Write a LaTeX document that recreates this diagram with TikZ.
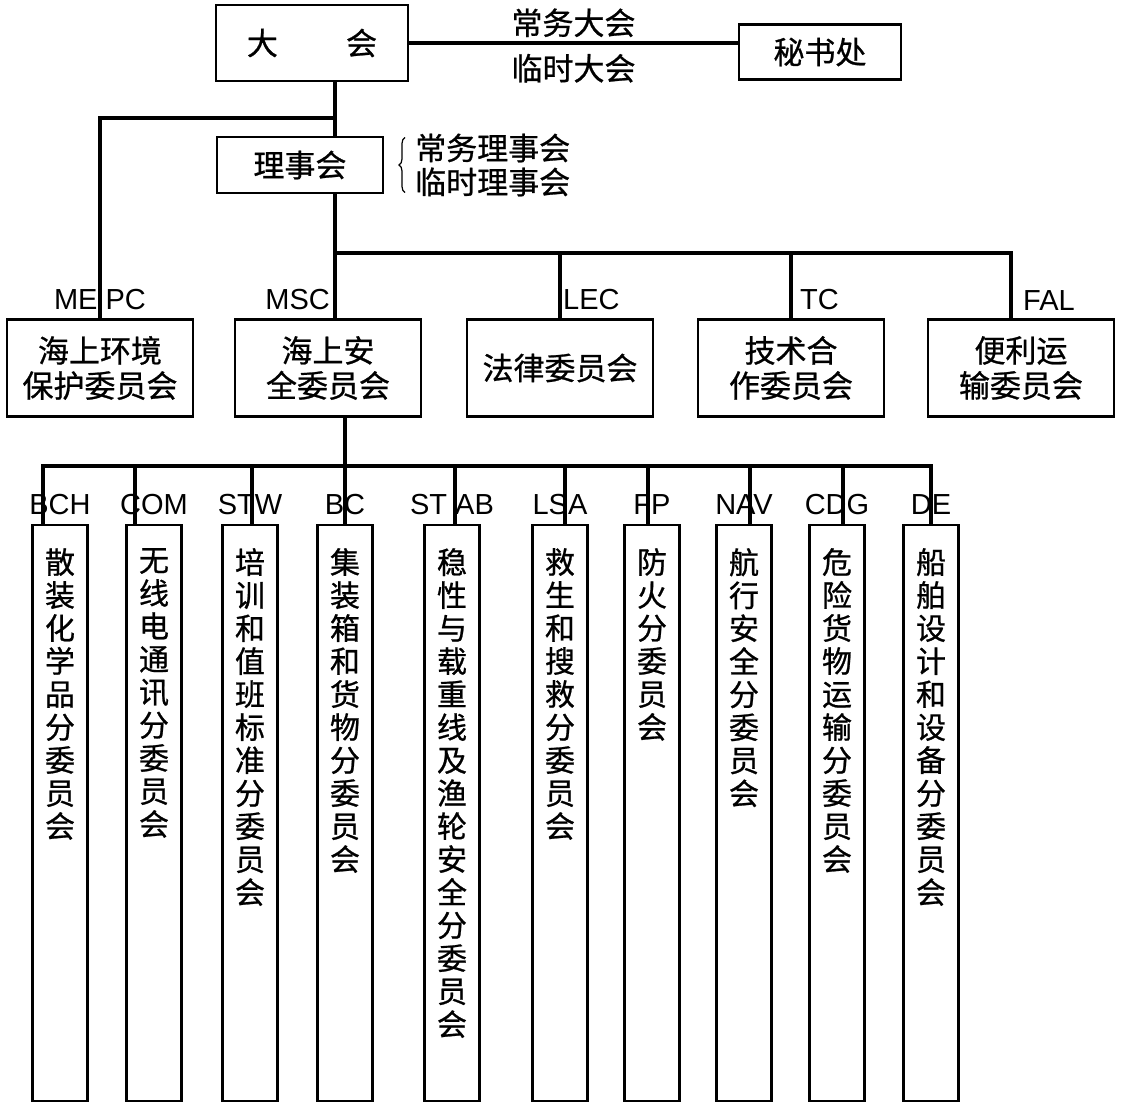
\documentclass[tikz,border=0pt]{standalone}
\usepackage{fontspec}
\setmainfont{Liberation Sans}
\newfontfamily\cjk[FakeBold=0.8]{Noto Sans CJK SC}
\usetikzlibrary{positioning,decorations.pathreplacing}
\tikzset{
     org/.style = {draw, line width=2.2pt, font=\cjk\fontsize{31}{35}\selectfont, align=center},
     combox/.style = {org, minimum width=186pt, minimum height=97pt},
     subbox/.style = {draw, line width=2.2pt, minimum width=55pt, minimum height=576pt, anchor=north},
     subtext/.style = {font=\cjk\fontsize{30}{33}\selectfont, align=center, inner sep=0pt},
     abbr/.style = {font=\fontsize{29}{30}\selectfont, inner sep=0pt},
     note/.style = {font=\cjk\fontsize{31}{34}\selectfont, align=left, inner sep=0pt},
     link/.style = {line width=3.8pt},
    }

\begin{document}
\begin{tikzpicture}[x=1pt,y=1pt]
        \useasboundingbox (0,0) rectangle (1125,-1114);
        \coordinate (spine) at (335,0);
        \coordinate (b0) at (335,-118);
        \coordinate (b1) at (335,-253);
        \coordinate (b2) at (345,-466);

        % top
        \node [org, minimum width=192pt, minimum height=76pt] (dahui) at (312,-43) {大\hspace{2.2em}会};
        \node [org, minimum width=162pt, minimum height=55pt] (mishu) at (820,-52) {秘书处};
        \node [org, minimum width=166pt, minimum height=56pt] (lishi) at (300,-165) {理事会};
        \node [note, anchor=west] (lsnote) at (415,-165) {常务理事会\\临时理事会};

        % committees
        \node [combox] (mepc) at (100,-368) {海上环境\\保护委员会};
        \node [combox] (msc)  at (328,-368) {海上安\\全委员会};
        \node [combox] (lec)  at (560,-368) {法律委员会};
        \node [combox] (tc)   at (791,-368) {技术合\\作委员会};
        \node [combox] (fal)  at (1021,-368) {便利运\\输委员会};
        \coordinate (mscjoin) at (msc.north -| spine);
        \coordinate (faljoin) at ([xshift=-10pt]fal.north);

        \node [abbr, above=8pt of mepc.north] {ME PC};
        \node [abbr, above left=8pt and 5pt of mscjoin] {MSC};
        \node [abbr, above right=8pt and 3pt of lec.north] {LEC};
        \node [abbr, above right=8pt and 9pt of tc.north] {TC};
        \node [abbr, above right=8pt and 12pt of faljoin] {FAL};

        % sub-committees
        \node [subbox] (bch)  at (60,-524) {};
        \node [subbox] (com)  at (154,-524) {};
        \node [subbox] (stw)  at (250,-524) {};
        \node [subbox] (bc)   at (345,-524) {};
        \node [subbox] (stab) at (452,-524) {};
        \node [subbox] (lsa)  at (560,-524) {};
        \node [subbox] (fp)   at (652,-524) {};
        \node [subbox] (nav)  at (744,-524) {};
        \node [subbox] (cdg)  at (837,-524) {};
        \node [subbox] (de)   at (931,-524) {};

        \node [subtext, below=24pt of bch.north]  {散\\装\\化\\学\\品\\分\\委\\员\\会};
        \node [subtext, below=24pt of com.north]  {无\\线\\电\\通\\讯\\分\\委\\员\\会};
        \node [subtext, below=24pt of stw.north]  {培\\训\\和\\值\\班\\标\\准\\分\\委\\员\\会};
        \node [subtext, below=24pt of bc.north]   {集\\装\\箱\\和\\货\\物\\分\\委\\员\\会};
        \node [subtext, below=24pt of stab.north] {稳\\性\\与\\载\\重\\线\\及\\渔\\轮\\安\\全\\分\\委\\员\\会};
        \node [subtext, below=24pt of lsa.north]  {救\\生\\和\\搜\\救\\分\\委\\员\\会};
        \node [subtext, below=24pt of fp.north]   {防\\火\\分\\委\\员\\会};
        \node [subtext, below=24pt of nav.north]  {航\\行\\安\\全\\分\\委\\员\\会};
        \node [subtext, below=24pt of cdg.north]  {危\\险\\货\\物\\运\\输\\分\\委\\员\\会};
        \node [subtext, below=24pt of de.north]   {船\\舶\\设\\计\\和\\设\\备\\分\\委\\员\\会};

        \node [abbr, above=9pt of bch.north]  {BCH};
        \node [abbr, above=9pt of com.north]  {COM};
        \node [abbr, above=9pt of stw.north]  {STW};
        \node [abbr, above=9pt of bc.north]   {BC};
        \node [abbr, above=9pt of stab.north] {ST AB};
        \node [abbr, above=9pt of lsa.north]  {LSA};
        \node [abbr, above=9pt of fp.north]   {FP};
        \node [abbr, above=9pt of nav.north]  {NAV};
        \node [abbr, above=9pt of cdg.north]  {CDG};
        \node [abbr, above=9pt of de.north]   {DE};

        % connectors
        \draw [link] (dahui.east) -- node [note, above=4pt] {常务大会} node [note, below=9pt] {临时大会} (dahui.east -| mishu.west);
        \draw [line width=1.2pt, decorate, decoration={brace, amplitude=6pt}]
              ([xshift=-10pt,yshift=4pt]lsnote.south west) -- ([xshift=-10pt,yshift=-4pt]lsnote.north west);
        \draw [link] (dahui.south -| spine) -- (lishi.north -| spine);
        \draw [link] (b0) -| (mepc.north);
        \draw [link] (lishi.south -| spine) -- (mscjoin);
        \draw [link] (b1) -| (lec.north);
        \draw [link] (b1) -| (tc.north);
        \draw [link] (b1) -| (faljoin);

        \draw [link] (msc.south -| bc.north) -- (bc.north);
        \draw [link] (b2) -| ([xshift=-17pt]bch.north);
        \draw [link] (b2) -| ([xshift=-19pt]com.north);
        \draw [link] (b2) -| ([xshift=2pt]stw.north);
        \draw [link] (b2) -| ([xshift=3pt]stab.north);
        \draw [link] (b2) -| ([xshift=5pt]lsa.north);
        \draw [link] (b2) -| ([xshift=-4pt]fp.north);
        \draw [link] (b2) -| ([xshift=6pt]nav.north);
        \draw [link] (b2) -| ([xshift=6pt]cdg.north);
        \draw [link] (b2) -| (de.north);
    \end{tikzpicture}
\end{document}
